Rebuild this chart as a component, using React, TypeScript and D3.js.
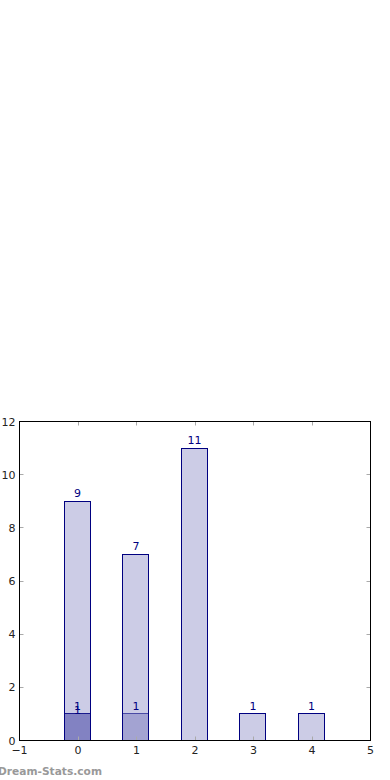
import React from "react";
import * as d3 from "d3";

const categories = [0, 1, 2, 3, 4];
const seriesA = [9, 7, 11, 1, 1];
const seriesB = [1, 1, 0, 0, 0];
const seriesC = [1, 0, 0, 0, 0];
const xTicks = [-1, 0, 1, 2, 3, 4, 5];
const yTicks = [0, 2, 4, 6, 8, 10, 12];

const W = 390, H = 780;
const left = 19.5, right = 370.5, top = 421.5, bottom = 740.5;

export default function App() {
  const x = d3.scaleLinear().domain([-1, 5]).range([left, right]);
  const y = d3.scaleLinear().domain([0, 12]).range([bottom, top]);
  const bw = Math.round(x(0.45) - x(0));
  const px = (v: number) => Math.round(v - 0.5) + 0.5;
  const fmt = (v: number) => (v < 0 ? "\u2212" + Math.abs(v) : String(v));
  const series = [
    { vals: seriesA, dy: -4 },
    { vals: seriesB, dy: -4 },
    { vals: seriesC, dy: 0 },
  ];
  return (
    <svg width={W} height={H} style={{ position: "absolute", left: 0, top: 0 }} fontFamily="DejaVu Sans">
      <rect width={W} height={H} fill="#fff" />
      {series.map((s, si) =>
        categories.map((c, i) =>
          s.vals[i] > 0 ? (
            <rect key={`b${si}-${i}`} x={px(x(c) - bw / 2 - 1)} y={px(y(s.vals[i]))} width={bw} height={bottom - px(y(s.vals[i]))}
              fill="#000080" fillOpacity={0.2} stroke="#000080" strokeOpacity={si === 0 ? 1 : 0.6} strokeWidth={1} />
          ) : null
        )
      )}
      {series.map((s, si) =>
        categories.map((c, i) =>
          s.vals[i] > 0 ? (
            <text key={`l${si}-${i}`} x={x(c) - 0.5} y={y(s.vals[i]) + s.dy} textAnchor="middle" fontSize={11} fill="#000080">{s.vals[i]}</text>
          ) : null
        )
      )}
      {xTicks.map((t) => (
        <g key={`xt${t}`}>
          <line x1={px(x(t))} x2={px(x(t))} y1={bottom} y2={bottom - 4} stroke="#aaa" />
          <line x1={px(x(t))} x2={px(x(t))} y1={top} y2={top + 4} stroke="#aaa" />
          <text x={x(t)} y={bottom + 13} textAnchor="middle" fontSize={11} fill="#222">{fmt(t)}</text>
        </g>
      ))}
      {yTicks.map((t) => (
        <g key={`yt${t}`}>
          <line x1={left} x2={left + 4} y1={px(y(t))} y2={px(y(t))} stroke="#aaa" />
          <line x1={right} x2={right - 4} y1={px(y(t))} y2={px(y(t))} stroke="#aaa" />
          <text x={left - 4} y={y(t) + 4} textAnchor="end" fontSize={11} fill="#222">{fmt(t)}</text>
        </g>
      ))}
      <rect x={left} y={top} width={right - left} height={bottom - top} fill="none" stroke="#000" strokeWidth={1} />
      <text x={-2} y={775} fontSize={11} fontWeight="bold" fill="#999" textLength={104} lengthAdjust="spacingAndGlyphs">Dream-Stats.com</text>
    </svg>
  );
}
